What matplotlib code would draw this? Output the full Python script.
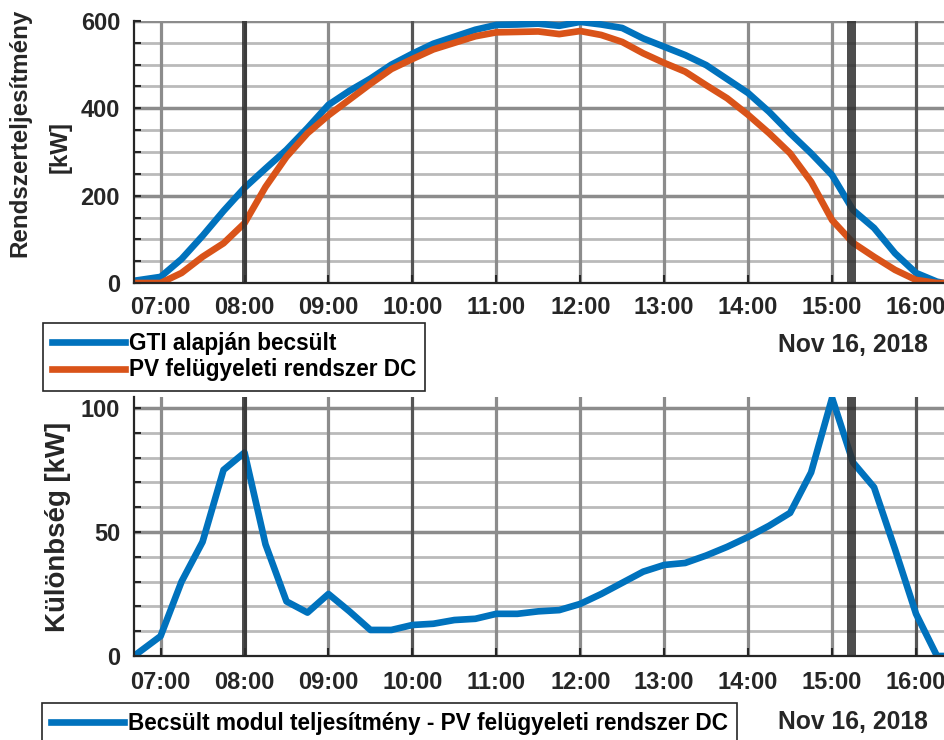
import matplotlib.pyplot as plt

# time stamps (hh:mm) of the samples
times = ['06:41', '07:00', '07:15', '07:30', '07:45', '08:00', '08:15', '08:30', '08:45',
         '09:00', '09:15', '09:30', '09:45', '10:00', '10:15', '10:30', '10:45',
         '11:00', '11:15', '11:30', '11:45', '12:00', '12:15', '12:30', '12:45',
         '13:00', '13:15', '13:30', '13:45', '14:00', '14:15', '14:30', '14:45',
         '15:00', '15:15', '15:30', '15:45', '16:00', '16:15', '16:20']

gti_est = [5, 14, 55, 108, 165, 218, 262, 305, 355,
           408, 440, 468, 500, 525, 548, 564, 580,
           591, 592, 594, 589, 598, 592, 584, 560,
           541, 522, 499, 467, 435, 392, 343, 297,
           247, 167, 126, 68, 23, 3, 0]

pv_dc = [0, 0, 23, 60, 91, 137, 220, 289, 343,
         384, 420, 456, 490, 513, 535, 550, 565,
         574, 575, 576, 570, 577, 568, 552, 526,
         504, 484, 453, 423, 385, 343, 297, 232,
         144, 92, 60, 30, 7, 0, 0]

diff = [0, 8, 30, 46, 75, 82, 45, 22, 17.5,
        25, 18, 10.5, 10.5, 12.5, 13, 14.5, 15,
        17, 17, 18, 18.5, 21, 25, 29.5, 34,
        36.7, 37.5, 40.5, 44, 48, 52.5, 57.7, 74,
        104, 78, 68, 43, 17, 0, 0]

hour_ticks = ['07:00', '08:00', '09:00', '10:00', '11:00', '12:00', '13:00', '14:00', '15:00', '16:00']
bands = [('07:58', '08:02'), ('15:11', '15:17')]
dark_lines = ['10:00', '16:00']
date_label = 'Nov 16, 2018'


def to_h(s):
    h, m = s.split(':')
    return int(h) + int(m) / 60


x = [to_h(t) for t in times]
xt = [to_h(t) for t in hour_ticks]

plt.rcParams['font.family'] = ['Liberation Sans', 'DejaVu Sans']
plt.rcParams['font.weight'] = 'bold'

BLUE = '#0072BD'
ORANGE = '#D95319'
DARK = '#262626'

W, H = 944, 740
fig = plt.figure(figsize=(W / 100, H / 100), dpi=100)
ax1 = fig.add_axes([134 / W, 1 - 283 / H, 1 - 134 / W, (283 - 21) / H])
ax2 = fig.add_axes([134 / W, 1 - 656 / H, 1 - 134 / W, (656 - 397) / H])


def style(ax, ymax, major, minor, xpad):
    ax.set_xlim(to_h('06:41'), to_h('16:20'))
    ax.set_ylim(0, ymax)
    ax.set_xticks(xt)
    ax.set_xticklabels(hour_ticks)
    ax.set_yticks([v for v in range(0, int(ymax) + 1, major)])
    ax.set_yticks([v for v in range(0, int(ymax) + 1, minor) if v % major], minor=True)
    for v in range(0, int(ymax) + 1, minor):
        if v == 0:
            continue
        if v % major == 0:
            ax.axhline(v, color='#8c8c8c', lw=2.5, zorder=1)
        else:
            ax.axhline(v, color='#bababa', lw=2, zorder=1)
    for t, lab in zip(xt, hour_ticks):
        c = '#555555' if lab in dark_lines else '#8c8c8c'
        ax.axvline(t, color=c, lw=2.3, zorder=1)
    for a, b in bands:
        ax.axvspan(to_h(a), to_h(b), color='#2e2e2e', alpha=0.85, lw=0, zorder=5)
    for s in ['top', 'right']:
        ax.spines[s].set_visible(False)
    for s in ['left', 'bottom']:
        ax.spines[s].set_color(DARK)
        ax.spines[s].set_linewidth(1.6)
        ax.spines[s].set_zorder(6)
    ax.tick_params(axis='both', which='both', direction='in', colors=DARK, width=1.5)
    ax.tick_params(axis='x', length=6, labelsize=17, pad=xpad)
    ax.tick_params(axis='y', which='major', length=5, labelsize=17, pad=10)
    ax.tick_params(axis='y', which='minor', length=5)


style(ax1, 600, 200, 50, 9.5)
style(ax2, 104.4, 50, 10, 10.5)
ax2.set_ylim(0, 104.4)

l1, = ax1.plot(x, gti_est, color=BLUE, lw=4.8, zorder=3, label='GTI alapján becsült')
l2, = ax1.plot(x, pv_dc, color=ORANGE, lw=4.8, zorder=3, label='PV felügyeleti rendszer DC')
l3, = ax2.plot(x, diff, color=BLUE, lw=4.8, zorder=3,
               label='Becsült modul teljesítmény - PV felügyeleti rendszer DC')

leg_kw = dict(loc='upper left', fontsize=16.3, frameon=True, fancybox=False, framealpha=1,
              edgecolor=DARK, borderaxespad=0, handlelength=3.2, handletextpad=0.2,
              labelspacing=0.15, borderpad=0.4)
leg1 = fig.legend(handles=[l1, l2], bbox_to_anchor=(43 / W, 1 - 323 / H), **leg_kw)
leg2 = fig.legend(handles=[l3], bbox_to_anchor=(42 / W, 1 - 703 / H), **leg_kw)
for lg in (leg1, leg2):
    lg.get_frame().set_linewidth(1.2)

fig.text(928 / W, 1 - 345 / H, date_label, ha='right', va='center', fontsize=17.8, color=DARK)
fig.text(928 / W, 1 - 722 / H, date_label, ha='right', va='center', fontsize=17.8, color=DARK)

fig.text(20 / W, 1 - 133 / H, 'Rendszerteljesítmény', rotation=90, ha='center', va='center',
         fontsize=17.4, color=DARK)
fig.text(60 / W, 1 - 147 / H, '[kW]', rotation=90, ha='center', va='center',
         fontsize=17.4, color=DARK)
fig.text(58 / W, 1 - 527 / H, 'Különbség [kW]', rotation=90, ha='center', va='center',
         fontsize=19.9, color=DARK)

plt.savefig('out.png', dpi=100)
